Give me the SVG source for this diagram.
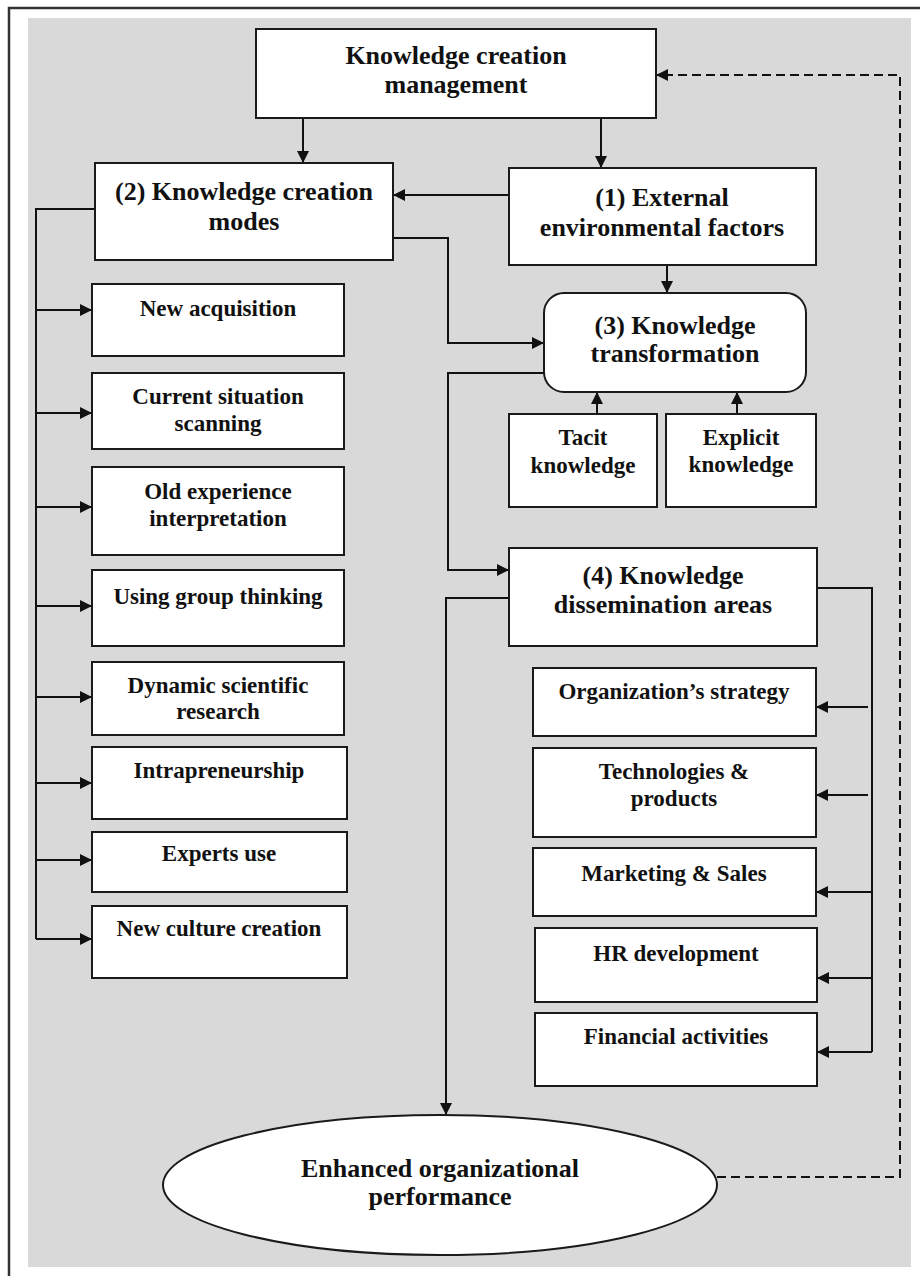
<svg xmlns="http://www.w3.org/2000/svg" width="920" height="1276" viewBox="0 0 920 1276">
<defs>
<style>
.box{fill:#fff;stroke:#1a1a1a;stroke-width:2}
.h{font-family:"Liberation Serif","Times New Roman",serif;font-weight:bold;font-size:26px;fill:#111;text-anchor:middle}
.t{font-family:"Liberation Serif","Times New Roman",serif;font-weight:bold;font-size:23px;fill:#111;text-anchor:middle}
.ln{fill:none;stroke:#111;stroke-width:2}
.arr{fill:none;stroke:#111;stroke-width:2;marker-end:url(#ah)}
.dash{fill:none;stroke:#111;stroke-width:2;stroke-dasharray:9 5;marker-end:url(#ah)}
</style>
<marker id="ah" viewBox="0 0 12 12" refX="12" refY="6" markerWidth="12" markerHeight="12" markerUnits="userSpaceOnUse" orient="auto">
<path d="M0,0 L12,6 L0,12 z" fill="#111"/>
</marker>
</defs>
<rect x="0" y="0" width="920" height="1276" fill="#fff"/>
<path d="M9 1276 V8 H920" fill="none" stroke="#333" stroke-width="2.5"/>
<rect x="28" y="18" width="883" height="1249" fill="#d9d9d9"/>

<g id="connectors">
<path class="arr" d="M303 118 V163"/>
<path class="arr" d="M601 118 V168"/>
<path class="arr" d="M509 195 H393"/>
<path class="arr" d="M667 265 V293"/>
<path class="arr" d="M393 238 H448 V343 H544"/>
<path class="arr" d="M544 373 H448 V570 H509"/>
<path class="arr" d="M597 414 V392"/>
<path class="arr" d="M737 414 V392"/>
<path class="ln" d="M95 209 H36 V939"/>
<path class="arr" d="M36 310 H92"/>
<path class="arr" d="M36 413 H92"/>
<path class="arr" d="M36 507 H92"/>
<path class="arr" d="M36 606 H92"/>
<path class="arr" d="M36 697 H92"/>
<path class="arr" d="M36 783 H92"/>
<path class="arr" d="M36 860 H92"/>
<path class="arr" d="M36 939 H92"/>
<path class="ln" d="M817 588 H872 V1052"/>
<path class="arr" d="M868 707 H816"/>
<path class="arr" d="M868 795 H816"/>
<path class="arr" d="M872 892 H816"/>
<path class="arr" d="M872 978 H817"/>
<path class="arr" d="M872 1052 H817"/>
<path class="arr" d="M509 598 H446 V1115"/>
<path class="dash" d="M717 1177 H900 V75 H656"/>
</g>

<g id="n-management">
<rect class="box" x="256" y="29" width="400" height="89"/>
<text class="h" x="456" y="64">Knowledge creation</text>
<text class="h" x="456" y="93">management</text>
</g>
<g id="n-modes">
<rect class="box" x="95" y="163" width="298" height="97"/>
<text class="h" x="244" y="200">(2) Knowledge creation</text>
<text class="h" x="244" y="230">modes</text>
</g>
<g id="n-external">
<rect class="box" x="509" y="168" width="307" height="97"/>
<text class="h" x="662" y="206">(1) External</text>
<text class="h" x="662" y="236">environmental factors</text>
</g>
<g id="n-transformation">
<rect class="box" x="544" y="293" width="262" height="99" rx="20" ry="20"/>
<text class="h" x="675" y="334">(3) Knowledge</text>
<text class="h" x="675" y="362">transformation</text>
</g>
<g id="n-tacit">
<rect class="box" x="509" y="414" width="148" height="93"/>
<text class="t" x="583" y="445">Tacit</text>
<text class="t" x="583" y="473">knowledge</text>
</g>
<g id="n-explicit">
<rect class="box" x="666" y="414" width="150" height="93"/>
<text class="t" x="741" y="445">Explicit</text>
<text class="t" x="741" y="472">knowledge</text>
</g>
<g id="n-dissemination">
<rect class="box" x="509" y="548" width="308" height="98"/>
<text class="h" x="663" y="584">(4) Knowledge</text>
<text class="h" x="663" y="613">dissemination areas</text>
</g>

<g id="n-new-acquisition">
<rect class="box" x="92" y="284" width="252" height="72"/>
<text class="t" x="218" y="316">New acquisition</text>
</g>
<g id="n-current-situation">
<rect class="box" x="92" y="373" width="252" height="76"/>
<text class="t" x="218" y="404">Current situation</text>
<text class="t" x="218" y="431">scanning</text>
</g>
<g id="n-old-experience">
<rect class="box" x="92" y="467" width="252" height="88"/>
<text class="t" x="218" y="499">Old experience</text>
<text class="t" x="218" y="526">interpretation</text>
</g>
<g id="n-group-thinking">
<rect class="box" x="92" y="570" width="252" height="76"/>
<text class="t" x="218" y="604">Using group thinking</text>
</g>
<g id="n-dynamic-research">
<rect class="box" x="92" y="662" width="252" height="73"/>
<text class="t" x="218" y="693">Dynamic scientific</text>
<text class="t" x="218" y="719">research</text>
</g>
<g id="n-intrapreneurship">
<rect class="box" x="92" y="747" width="255" height="72"/>
<text class="t" x="219" y="778">Intrapreneurship</text>
</g>
<g id="n-experts-use">
<rect class="box" x="92" y="832" width="255" height="60"/>
<text class="t" x="219" y="861">Experts use</text>
</g>
<g id="n-new-culture">
<rect class="box" x="92" y="906" width="255" height="72"/>
<text class="t" x="219" y="936">New culture creation</text>
</g>

<g id="n-strategy">
<rect class="box" x="533" y="668" width="283" height="68"/>
<text class="t" x="674" y="699">Organization’s strategy</text>
</g>
<g id="n-technologies">
<rect class="box" x="533" y="748" width="283" height="89"/>
<text class="t" x="674" y="779">Technologies &amp;</text>
<text class="t" x="674" y="806">products</text>
</g>
<g id="n-marketing">
<rect class="box" x="533" y="848" width="283" height="68"/>
<text class="t" x="674" y="881">Marketing &amp; Sales</text>
</g>
<g id="n-hr">
<rect class="box" x="535" y="928" width="282" height="74"/>
<text class="t" x="676" y="961">HR development</text>
</g>
<g id="n-financial">
<rect class="box" x="535" y="1013" width="282" height="73"/>
<text class="t" x="676" y="1044">Financial activities</text>
</g>

<g id="n-performance">
<ellipse class="box" cx="440" cy="1185" rx="277" ry="70"/>
<text class="h" x="440" y="1177">Enhanced organizational</text>
<text class="h" x="440" y="1205">performance</text>
</g>
</svg>
